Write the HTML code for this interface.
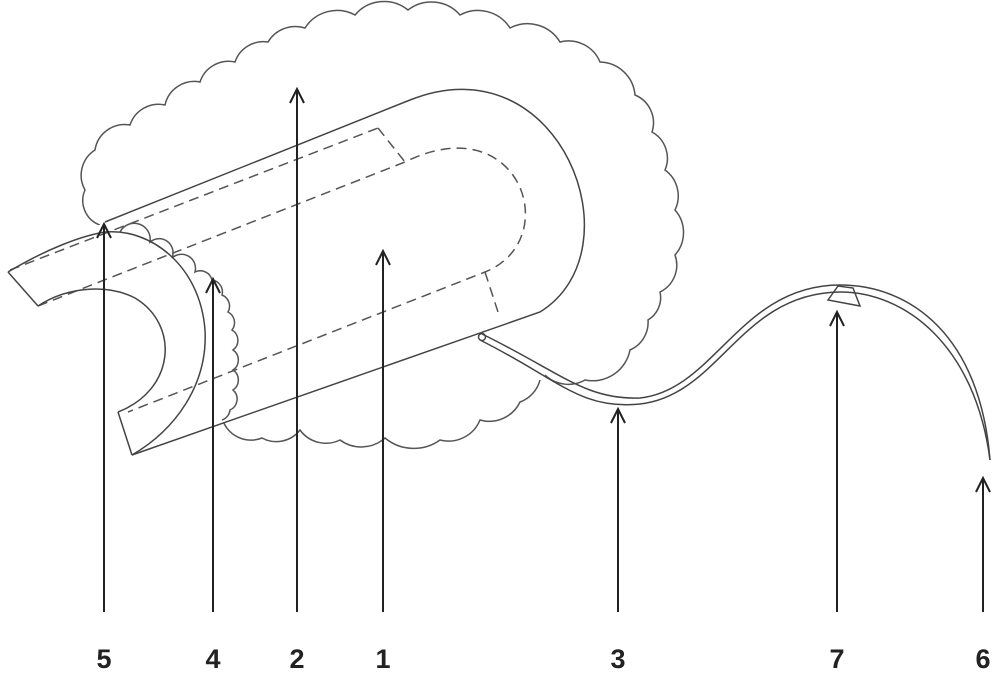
<!DOCTYPE html>
<html><head><style>body{margin:0;background:#fff}svg{display:block}</style></head><body>
<svg width="1000" height="677" viewBox="0 0 1000 677" xmlns="http://www.w3.org/2000/svg" fill="none" stroke="#555" stroke-width="1.5">
<!-- cloud -->
<path d="M100,225 A26,26 0 0 1 85,190 A30,30 0 0 1 95,150 A30,30 0 0 1 130,125 A30,30 0 0 1 165,105 A30,30 0 0 1 200,82 A30,30 0 0 1 235,62 A30,30 0 0 1 268,42 A32,32 0 0 1 305,28 A38,38 0 0 1 355,15 A38,38 0 0 1 408,10 A38,38 0 0 1 460,15 A38,38 0 0 1 510,28 A38,38 0 0 1 560,42 A34,34 0 0 1 600,62 A36,36 0 0 1 635,95 A30,30 0 0 1 652,132 A30,30 0 0 1 665,170 A32,32 0 0 1 675,210 A34,34 0 0 1 675,255 A30,30 0 0 1 660,292 A26,26 0 0 1 648,320 A30,30 0 0 1 630,350 A38,38 0 0 1 585,380 A34,34 0 0 1 545,375"/>
<path d="M540,380 A32,32 0 0 1 520,402 A34,34 0 0 1 480,420 A34,34 0 0 1 440,440 A45,45 0 0 1 385,438 A36,36 0 0 1 340,440 A32,32 0 0 1 300,430 A30,30 0 0 1 262,438 A30,30 0 0 1 222,418"/>
<!-- tube (white fill hides cloud) -->
<path d="M105,222 L410,100 C560,40 640,250 540,312 L132,455 L118,412 C170,390 180,320 135,298 C110,285 70,288 38,306 L8,272 C40,252 75,238 105,222 Z" fill="#fff" stroke="none"/>
<!-- small scallops near 4 -->
<path d="M120,232 A16,16 0 0 1 150,242 A14,14 0 0 1 172,258 A14,14 0 0 1 195,272 A12,12 0 0 1 212,280 A12,12 0 0 1 222,295 A12,12 0 0 1 228,312 A12,12 0 0 1 232,330 A12,12 0 0 1 233,350 A12,12 0 0 1 233,370 A12,12 0 0 1 233,390 A12,12 0 0 1 230,410 A12,12 0 0 1 222,420"/>
<path d="M105,222 L410,100 C560,40 640,250 540,312 L132,455" stroke="#444"/>
<g stroke-dasharray="10,6">
<path d="M10,270 L378,128"/>
<path d="M38,306 L405,162 C520,105 565,240 485,272 L128,412"/>
<path d="M378,128 L405,162"/>
<path d="M485,272 L498,312"/>
</g>
<!-- left C ring -->
<path d="M8,272 C45,250 80,236 105,232 C150,228 200,265 205,330 C208,385 175,430 132,455" stroke="#444"/>
<path d="M38,306 C70,285 110,285 135,298 C180,325 175,390 118,412" stroke="#444"/>
<path d="M8,272 L38,306 M118,412 L132,455" stroke="#444"/>
<!-- wire -->
<path d="M480,340 C560,380 580,410 640,404 C720,395 740,293 840,292 C905,292 975,345 990,460" stroke="#444"/>
<path d="M482,334 C560,372 585,400 640,398 C715,390 740,285 840,285 C910,285 980,335 990,460" stroke="#444"/>
<circle cx="482" cy="337" r="3.5" stroke="#444"/>
<path d="M828,300 L838,286 L853,288 L860,306 Z" stroke="#444"/>
<!-- arrows -->
<g stroke="#222" stroke-width="2">
<path d="M104,612 V224 M97,238 L104,224 L111,238"/>
<path d="M213,612 V279 M206,293 L213,279 L220,293"/>
<path d="M297,612 V89 M290,103 L297,89 L304,103"/>
<path d="M383,612 V251 M376,265 L383,251 L390,265"/>
<path d="M618,612 V409 M611,423 L618,409 L625,423"/>
<path d="M837,612 V312 M830,326 L837,312 L844,326"/>
<path d="M983,612 V478 M976,492 L983,478 L990,492"/>
</g>
<g fill="#222" stroke="none" font-family="Liberation Sans, sans-serif" font-weight="bold" font-size="27" text-anchor="middle">
<text x="104" y="668">5</text><text x="213" y="668">4</text><text x="297" y="668">2</text><text x="383" y="668">1</text>
<text x="618" y="668">3</text><text x="837" y="668">7</text><text x="983" y="668">6</text>
</g>
</svg>
</body></html>
